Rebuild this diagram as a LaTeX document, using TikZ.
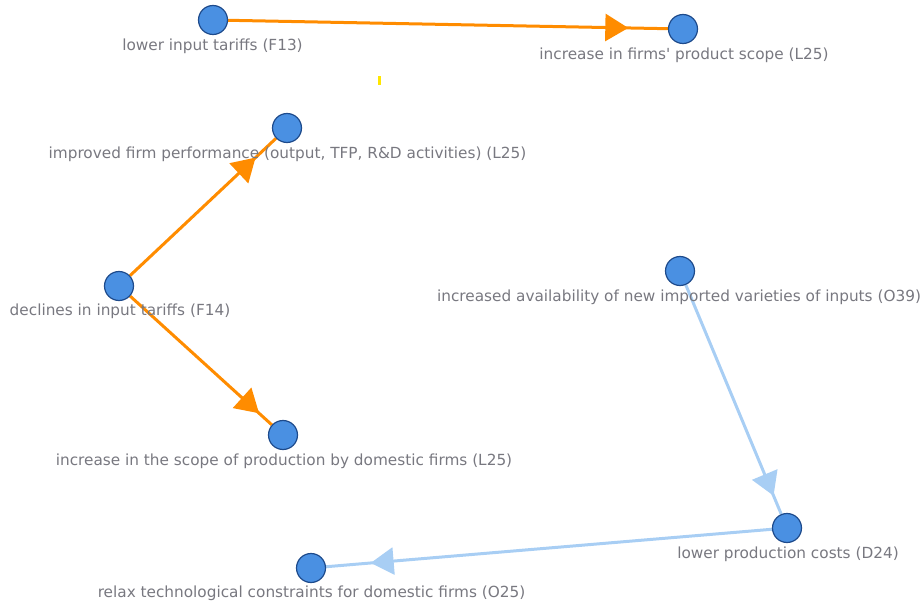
\documentclass[tikz,border=0pt]{standalone}
\usepackage{fontspec}
\setmainfont{DejaVu Sans}
\usetikzlibrary{arrows.meta,decorations.markings}
\pgfdeclarelayer{background}
\pgfsetlayers{background,main}
\definecolor{nodefill}{RGB}{74,144,226}
\definecolor{nodeedge}{RGB}{30,75,140}
\definecolor{edgeorange}{RGB}{255,140,0}
\definecolor{edgeblue}{RGB}{168,206,244}
\definecolor{labelgray}{RGB}{120,120,128}
\definecolor{markyellow}{RGB}{255,230,0}
\begin{document}
\begin{tikzpicture}[x=1bp,y=-1bp,
  dot/.style={circle, fill=nodefill, draw=nodeedge, line width=1.2bp, minimum size=29bp, inner sep=0pt},
  lbl/.style={text=labelgray, font=\fontsize{15.3bp}{18bp}\selectfont, inner sep=0pt},
  orangeedge/.style={color=edgeorange, line width=3bp},
  blueedge/.style={color=edgeblue, line width=3bp},
  tipat/.style={postaction={decorate}, decoration={markings, mark=at position #1 with {\arrow{Triangle[length=23bp,width=27bp]}}}},
]
\useasboundingbox (0,0) rectangle (923,605);

% nodes
\node[dot] (f13) at (213,20) {};
\node[dot] (l25a) at (683,29) {};
\node[dot] (l25b) at (287,128) {};
\node[dot] (f14) at (119,286) {};
\node[dot] (l25c) at (283,435) {};
\node[dot] (o39) at (680,271) {};
\node[dot] (d24) at (787,528) {};
\node[dot] (o25) at (311,568) {};

% labels
\node[lbl] (f13t) at (212.5,46) {lower input tariffs (F13)};
\node[lbl] (l25at) at (684,55) {increase in firms\textquotesingle\ product scope (L25)};
\node[lbl] (l25bt) at (287.5,154) {improved firm performance (output, TFP, R\&D activities) (L25)};
\node[lbl] (f14t) at (120,311) {declines in input tariffs (F14)};
\node[lbl] (l25ct) at (284,461) {increase in the scope of production by domestic firms (L25)};
\node[lbl] (o39t) at (679,297) {increased availability of new imported varieties of inputs (O39)};
\node[lbl] (d24t) at (788,554) {lower production costs (D24)};
\node[lbl] (o25t) at (311.5,593) {relax technological constraints for domestic firms (O25)};

% small yellow mark
\fill[markyellow] (378,76) rectangle (381,85);

% edges
\begin{pgfonlayer}{background}
\draw[orangeedge, tipat=0.91] (f13) -- (l25a);
\draw[orangeedge, tipat=0.86] (f14) -- (l25b);
\draw[orangeedge, tipat=0.91] (f14) -- (l25c);
\draw[blueedge, tipat=0.92] (o39) -- (d24);
\draw[blueedge, tipat=0.90] (d24) -- (o25);
\end{pgfonlayer}
\end{tikzpicture}
\end{document}
